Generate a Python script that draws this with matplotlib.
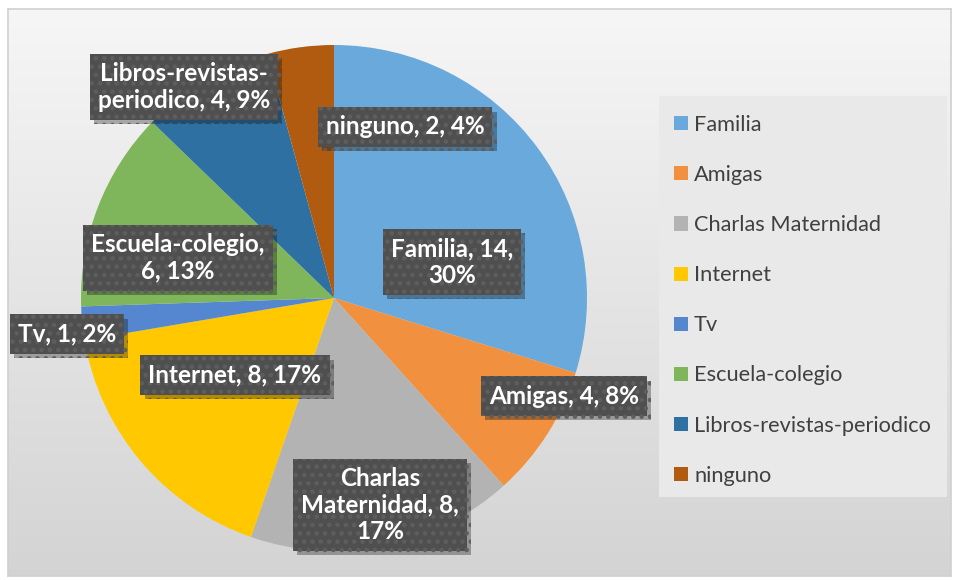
import numpy as np
import matplotlib
matplotlib.use("Agg")
import matplotlib.pyplot as plt
from matplotlib.patches import Rectangle
import matplotlib.patheffects as pe

plt.rcParams['font.family'] = ['Lato', 'DejaVu Sans']
plt.rcParams['hatch.linewidth'] = 2.0

categories = ["Familia", "Amigas", "Charlas Maternidad", "Internet", "Tv",
              "Escuela-colegio", "Libros-revistas-periodico", "ninguno"]
values = [14, 4, 8, 8, 1, 6, 4, 2]
percents = [30, 8, 17, 17, 2, 13, 9, 4]
colors = ["#69A9DC", "#F1913F", "#B3B3B3", "#FFC800",
          "#5587D1", "#80B65B", "#2E70A2", "#B05B10"]

# label text as wrapped in the original
label_text = [
    "Familia, 14,\n30%",
    "Amigas, 4, 8%",
    "Charlas\nMaternidad, 8,\n17%",
    "Internet, 8, 17%",
    "Tv, 1, 2%",
    "Escuela-colegio,\n6, 13%",
    "Libros-revistas-\nperiodico, 4, 9%",
    "ninguno, 2, 4%",
]
# label box centres in pixels (x, y from top)
label_pos = [(452, 262), (564, 396), (380, 505), (235, 375),
             (67, 334), (178, 258), (184, 87), (405, 127)]

W, H = 959, 580
fig = plt.figure(figsize=(W / 100, H / 100), dpi=100)

# chart area background with soft gradient
bg = fig.add_axes([8 / W, 4 / H, 943 / W, 567 / H])
grad = np.linspace(0.965, 0.83, 256).reshape(-1, 1)
bg.imshow(np.dstack([grad, grad, grad]), aspect='auto', extent=(0, 1, 0, 1))
bg.set_xticks([])
bg.set_yticks([])
for sp in bg.spines.values():
    sp.set_color('#d0d0d0')
    sp.set_linewidth(1.2)

ax = fig.add_axes([0, 0, 1, 1])
ax.patch.set_alpha(0)
cx, cy, r = 334, H - 298, 253
wedges, _ = ax.pie(values, colors=colors, startangle=90, counterclock=False,
                   center=(cx, cy), radius=r,
                   wedgeprops=dict(linewidth=0))
ax.set_xlim(0, W)
ax.set_ylim(0, H)
ax.set_aspect('equal')
ax.axis('off')

shadow = [pe.SimplePatchShadow(offset=(3, -3), shadow_rgbFace='black',
                               alpha=0.3), pe.Normal()]
for txt, (px, py) in zip(label_text, label_pos):
    t = ax.text(px, H - py, txt, ha='center', va='center', fontsize=17.5,
                fontweight='bold', color='white', linespacing=1.2,
                bbox=dict(boxstyle='square,pad=0.33', facecolor='#4f4f4f',
                          edgecolor='#5e5e5e', hatch='..', linewidth=0))
    t.get_bbox_patch().set_path_effects(shadow)

# legend box
ax.add_patch(Rectangle((659, H - 497), 288, 401, facecolor='#e9e9e9',
                       edgecolor='none', zorder=1))
leg = ax.legend(wedges, categories, loc='upper left',
                bbox_to_anchor=(674 / W, 1 - 115 / H),
                fontsize=15.7, frameon=False,
                handlelength=0.62, handleheight=0.62, handletextpad=0.3,
                labelspacing=1.38, borderpad=0, borderaxespad=0)
for t in leg.get_texts():
    t.set_color('#404040')

fig.savefig("out.png", dpi=100)
